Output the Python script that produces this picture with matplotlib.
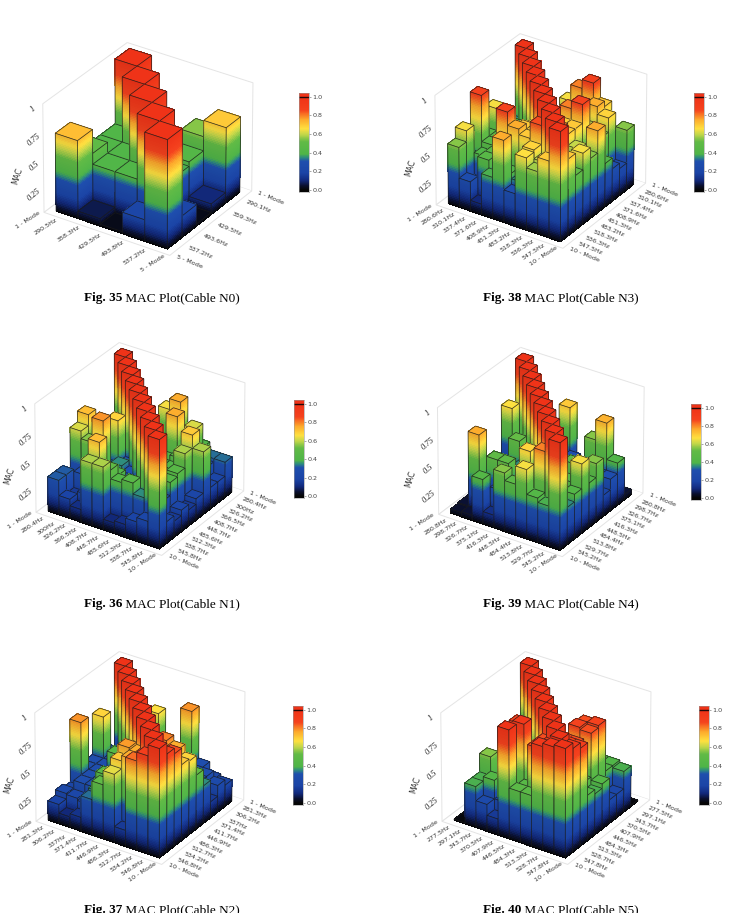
#!/usr/bin/env python3
import numpy as np
import matplotlib
matplotlib.use('Agg')
import matplotlib.pyplot as plt
from matplotlib.colors import LinearSegmentedColormap
from mpl_toolkits.mplot3d.art3d import Poly3DCollection, Line3DCollection

W, H = 738, 913

# MAC matrices, row = left axis mode, column = right axis mode
mac_n0 = [[1, .4, .4, .5, .72],
          [.5, 1, .4, .4, .07],
          [.4, .4, 1, .4, .02],
          [.55, .42, .38, 1, .2],
          [.7, .1, .02, .2, 1]]
mac_n3 = [[1, .35, .40, .35, .65, .45, .87, .35, .65, .55],
          [.35, 1, .40, .35, .50, .35, .45, .40, .20, .27],
          [.35, .40, 1, .45, .40, .55, .35, .45, .45, .10],
          [.35, .35, .45, 1, .55, .60, .45, .87, .35, .38],
          [.65, .50, .40, .55, 1, .65, .70, .75, .40, .75],
          [.80, .40, .55, .60, .65, 1, .65, .70, .35, .30],
          [.88, .45, .35, .80, .70, .65, 1, .85, .68, .66],
          [.70, .75, .60, .87, .70, .70, .80, 1, .60, .57],
          [.45, .68, .55, .45, .40, .60, .48, .60, 1, .70],
          [.55, .25, .30, .40, .75, .55, .65, .50, .70, 1]]
mac_n1 = [[1, .3, .3, .2, .3, .72, .62, .2, .32, .32],
          [.3, 1, .3, .3, .3, .3, .55, .3, .15, .18],
          [.3, .3, 1, .3, .68, .3, .78, .2, .2, .12],
          [.2, .3, .3, 1, .3, .35, .3, .4, .72, .58],
          [.65, .3, .35, .3, 1, .3, .3, .4, .5, .58],
          [.75, .3, .3, .4, .3, 1, .3, .3, .42, .1],
          [.5, .35, .75, .4, .4, .3, 1, .3, .45, .12],
          [.4, .62, .3, .45, .4, .35, .3, 1, .35, .18],
          [.33, .3, .4, .7, .58, .45, .42, .3, 1, .22],
          [.33, .2, .2, .58, .2, .15, .2, .15, .2, 1]]
mac_n4 = [[1, .05, .66, .05, .05, .05, .05, .05, .05, .04],
          [.05, 1, .2, .2, .25, .2, .2, .2, .75, .05],
          [.05, .2, 1, .2, .52, .3, .2, .5, .2, .42],
          [.05, .2, .2, 1, .3, .35, .3, .5, .3, .12],
          [.7, .2, .3, .3, 1, .3, .3, .3, .35, .55],
          [.05, .3, .3, .3, .3, 1, .3, .68, .3, .48],
          [.05, .2, .3, .3, .3, .3, 1, .3, .4, .65],
          [.05, .55, .3, .3, .48, .3, .3, 1, .8, .42],
          [.05, .74, .3, .3, .3, .3, .45, .4, 1, .38],
          [.05, .4, .3, .2, .55, .42, .65, .42, .35, 1]]
mac_n2 = [[1, .2, .3, .68, .3, .3, .78, .2, .23, .18],
          [.2, 1, .3, .3, .3, .3, .3, .3, .22, .1],
          [.3, .3, 1, .3, .45, .3, .3, .3, .2, .13],
          [.66, .3, .3, 1, .3, .45, .3, .45, .35, .33],
          [.3, .3, .45, .3, 1, .3, .45, .5, .45, .5],
          [.3, .3, .3, .45, .3, 1, .7, .77, .7, .63],
          [.78, .3, .3, .3, .45, .7, 1, .75, .75, .15],
          [.3, .3, .3, .45, .5, .8, .75, 1, .8, .82],
          [.22, .3, .3, .35, .45, .75, .75, .8, 1, .9],
          [.2, .25, .15, .35, .5, .68, .7, .85, .9, 1]]
mac_n5 = [[1, .01, .01, .01, .01, .01, .01, .01, .01, .01],
          [.01, 1, .25, .25, .25, .3, .25, .55, .38, .38],
          [.01, .25, 1, .25, .25, .3, .3, .3, .42, .25],
          [.01, .25, .25, 1, .3, .35, .87, .3, .25, .15],
          [.01, .25, .3, .3, 1, .4, .4, .95, .3, 1],
          [.01, .3, .3, .4, .4, 1, .45, .42, .45, .47],
          [.01, .3, .35, .4, .45, .45, 1, .85, .85, .47],
          [.01, .4, .4, .85, .87, .45, .85, 1, .9, .95],
          [.01, .4, .4, .87, .85, .45, .85, .9, 1, .98],
          [.01, .38, .22, .22, .42, .38, .42, .9, .95, 1]]

labels_n0_left = ['1 - Mode', '290.5Hz', '358.3Hz', '429.5Hz', '493.8Hz', '537.2Hz', '5 - Mode']
labels_n0_right = ['1 - Mode', '290.1Hz', '359.3Hz', '429.5Hz', '493.6Hz', '537.2Hz', '5 - Mode']
labels_n3 = ['1 - Mode', '280.6Hz', '310.1Hz', '337.4Hz', '371.6Hz', '408.9Hz', '451.3Hz',
             '483.2Hz', '518.3Hz', '536.3Hz', '547.5Hz', '10 - Mode']
labels_n1 = ['1 - Mode', '280.4Hz', '300Hz', '326.2Hz', '366.5Hz', '408.7Hz', '448.7Hz',
             '485.6Hz', '512.3Hz', '538.7Hz', '545.8Hz', '10 - Mode']
labels_n4 = ['1 - Mode', '280.8Hz', '298.7Hz', '326.7Hz', '375.1Hz', '416.3Hz', '448.5Hz',
             '484.4Hz', '513.8Hz', '529.7Hz', '545.2Hz', '10 - Mode']
labels_n2 = ['1 - Mode', '281.3Hz', '306.2Hz', '337Hz', '371.4Hz', '411.7Hz', '446.9Hz',
             '486.3Hz', '512.7Hz', '534.2Hz', '546.8Hz', '10 - Mode']
labels_n5 = ['1 - Mode', '277.5Hz', '297.1Hz', '343.7Hz', '370.5Hz', '407.9Hz', '446.5Hz',
             '484.3Hz', '513.3Hz', '528.7Hz', '547.8Hz', '10 - Mode']

cbar_ticks = [0.0, 0.2, 0.4, 0.6, 0.8, 1.0]
z_ticks = [0.25, 0.5, 0.75, 1]
z_ticklabels = ['0.25', '0.5', '0.75', '1']

mac_cmap = LinearSegmentedColormap.from_list('mac', [
    (0.0, '#060606'), (0.05, '#0b1236'), (0.10, '#12297c'), (0.18, '#1b44a6'),
    (0.31, '#1f4fae'), (0.35, '#2f8f7c'), (0.385, '#4fb548'), (0.52, '#62bb46'),
    (0.60, '#c6d84a'), (0.66, '#ffe040'), (0.76, '#fda92c'), (0.86, '#f5431e'),
    (1.0, '#ef3318')])
ZTOP = 1.04


def px_axes(fig, cx, cy, size):
    # square axes given in pixels, measured from the top left corner
    return fig.add_axes([(cx - size/2)/W, 1 - (cy + size/2)/H, size/W, size/H],
                        projection='3d', computed_zorder=False)


def draw_bars(ax, mac):
    mac = np.asarray(mac, dtype=float)
    n = mac.shape[0]
    order = sorted(((i, j) for i in range(n) for j in range(n)), key=lambda c: c[0] + c[1])
    for zo, (i, j) in enumerate(order):
        x0, x1 = j + 0.0, j + 1.0
        y0, y1 = i + 0.0, i + 1.0
        h = max(mac[i, j], 0.005)
        zs = np.append(np.arange(0, h, 0.015), h)
        quads, cols = [], []
        for a, b in zip(zs[:-1], zs[1:]):
            c = np.array(mac_cmap((a + b)/2))
            quads.append([(x1, y0, a), (x1, y1, a), (x1, y1, b), (x1, y0, b)])
            cols.append(c*[0.93, 0.93, 0.93, 1])
            quads.append([(x0, y1, a), (x1, y1, a), (x1, y1, b), (x0, y1, b)])
            cols.append(c)
        quads.append([(x0, y0, h), (x1, y0, h), (x1, y1, h), (x0, y1, h)])
        cols.append(mac_cmap(h))
        poly = Poly3DCollection(quads, facecolors=cols, edgecolors='none', linewidths=0,
                                antialiaseds=False, zorder=2*zo + 10)
        ax.add_collection3d(poly)
        edges = [[(x1, y1, 0), (x1, y1, h)], [(x1, y0, 0), (x1, y0, h)], [(x0, y1, 0), (x0, y1, h)],
                 [(x0, y0, h), (x1, y0, h)], [(x1, y0, h), (x1, y1, h)],
                 [(x1, y1, h), (x0, y1, h)], [(x0, y1, h), (x0, y0, h)]]
        ax.add_collection3d(Line3DCollection(edges, colors='#1a1a1a', linewidths=0.55, alpha=0.85,
                                             zorder=2*zo + 11))


def mac_panel(fig, mac, left_labels, right_labels, cx, cy, size):
    n = len(mac)
    ax = px_axes(fig, cx, cy, size)
    ax.set_proj_type('persp', focal_length=4)
    ax.view_init(elev=30, azim=33.5)
    ax.set_box_aspect((1, 1, 0.83), zoom=1.0)
    m = 0.065*n
    ax.set_xlim(-m, n + m)
    ax.set_ylim(-m, n + m)
    ax.set_zlim(0, 1.0)
    draw_bars(ax, mac)
    ticks = [-0.95*m] + [k + 0.5 for k in range(n)] + [n + 0.95*m]
    ax.set_xticks(ticks)
    ax.set_xticklabels(right_labels, rotation=-22, fontsize=4.6, color='#333333', ha='left', va='center')
    ax.set_yticks(ticks)
    ax.set_yticklabels(left_labels, rotation=33, fontsize=4.6, color='#333333', ha='right', va='center')
    ax.set_zticks(z_ticks)
    ax.set_zticklabels(z_ticklabels, rotation=40, fontsize=6, color='#222222',
                       family='Liberation Serif', style='italic')
    ax.zaxis.set_ticks_position('lower')
    ax.text2D(0.5 - 128/size, 0.5 - 25/size, 'MAC', transform=ax.transAxes, rotation=72,
              fontsize=5.5, color='#333333', ha='center', va='center')
    ax.tick_params(axis='both', color=(0, 0, 0, 0), pad=-4)
    ax.tick_params(axis='z', pad=-4)
    ax.grid(False)
    for axis in (ax.xaxis, ax.yaxis, ax.zaxis):
        axis.set_pane_color((1, 1, 1, 1))
        axis.pane.set_edgecolor('#e4e4e4')
        axis.pane.set_linewidth(0.7)
        axis.line.set_color((0, 0, 0, 0))
    return ax


def mac_colorbar(fig, x0, x1, y0, y1):
    ax = fig.add_axes([x0/W, 1 - y1/H, (x1 - x0)/W, (y1 - y0)/H])
    grad = np.linspace(-0.02, ZTOP, 256).reshape(-1, 1)
    ax.imshow(np.clip(grad, 0, 1), origin='lower', aspect='auto', cmap=mac_cmap, vmin=0, vmax=1,
              extent=[0, 1, -0.02, ZTOP])
    ax.axhline(1.0, color='#200808', lw=1.0)
    ax.set_xticks([])
    ax.yaxis.tick_right()
    ax.set_yticks(cbar_ticks)
    ax.set_yticklabels(['%.1f' % t for t in cbar_ticks], fontsize=4.6, color='#444444')
    ax.tick_params(axis='y', length=1.5, width=0.4, color='#666666', pad=1)
    for s in ax.spines.values():
        s.set_color('#999999')
        s.set_linewidth(0.4)


def caption(fig, cx, y, num, rest):
    # bold figure number followed by the plain caption text
    serif = 'Liberation Serif'
    r = fig.canvas.get_renderer()
    a = fig.text(0, 1 - y/H, 'Fig. %d' % num, family=serif, weight='bold', fontsize=9.5, va='center')
    b = fig.text(0, 1 - y/H, ' ' + rest, family=serif, fontsize=9.5, va='center')
    wa = a.get_window_extent(r).width
    wb = b.get_window_extent(r).width
    start = cx - (wa + wb)/2
    a.set_x(start/W)
    b.set_x((start + wa)/W)


fig = plt.figure(figsize=(W/100, H/100), dpi=100)

panel_n0 = (145, 151, 240)
panel_n3 = (538, 143, 242)
panel_n1 = (137, 451, 240)
panel_n4 = (538, 454, 236)
panel_n2 = (137, 760, 240)
panel_n5 = (543, 760, 240)

mac_panel(fig, mac_n0, labels_n0_left, labels_n0_right, *panel_n0)
mac_panel(fig, mac_n3, labels_n3, labels_n3, *panel_n3)
mac_panel(fig, mac_n1, labels_n1, labels_n1, *panel_n1)
mac_panel(fig, mac_n4, labels_n4, labels_n4, *panel_n4)
mac_panel(fig, mac_n2, labels_n2, labels_n2, *panel_n2)
mac_panel(fig, mac_n5, labels_n5, labels_n5, *panel_n5)

mac_colorbar(fig, 299, 309, 93, 192)
mac_colorbar(fig, 694, 704, 93, 192)
mac_colorbar(fig, 294, 304, 400, 498)
mac_colorbar(fig, 691, 701, 404, 500)
mac_colorbar(fig, 293, 303, 706, 805)
mac_colorbar(fig, 699, 709, 706, 805)

caption(fig, 162, 298, 35, 'MAC Plot(Cable N0)')
caption(fig, 561, 298, 38, 'MAC Plot(Cable N3)')
caption(fig, 162, 604, 36, 'MAC Plot(Cable N1)')
caption(fig, 561, 604, 39, 'MAC Plot(Cable N4)')
caption(fig, 162, 910, 37, 'MAC Plot(Cable N2)')
caption(fig, 561, 910, 40, 'MAC Plot(Cable N5)')

fig.savefig('out.png', dpi=100, facecolor='white')
